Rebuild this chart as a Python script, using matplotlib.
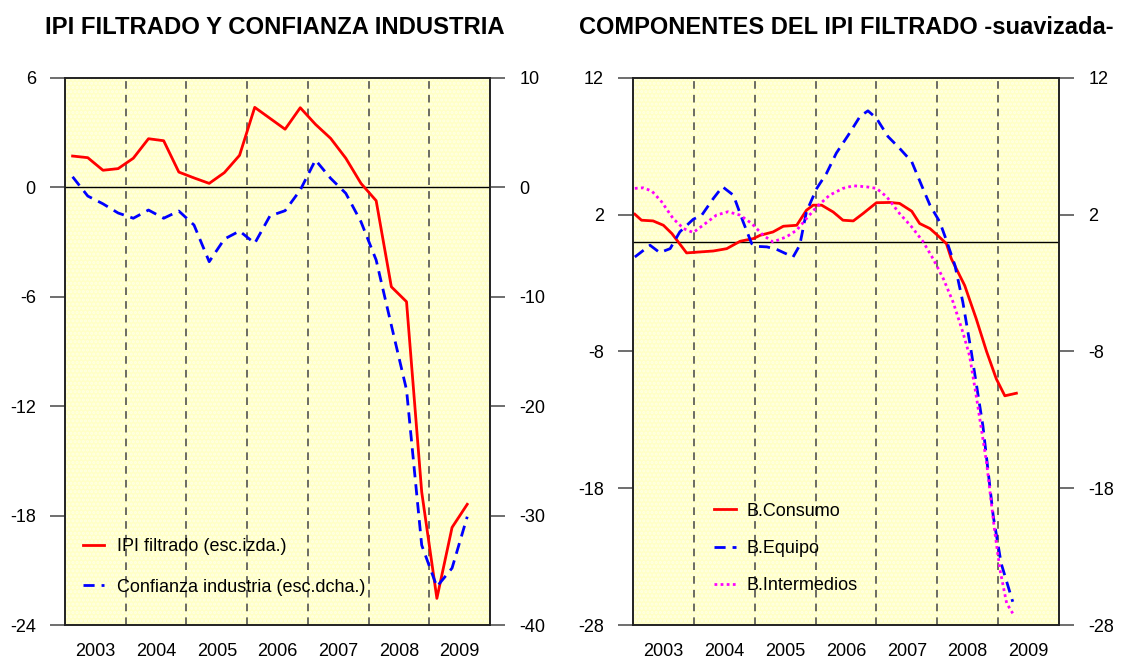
import numpy as np
import matplotlib
matplotlib.use("Agg")
import matplotlib.pyplot as plt
from matplotlib.patches import Rectangle

plt.rcParams['font.family'] = ['Liberation Sans', 'DejaVu Sans']
plt.rcParams['hatch.linewidth'] = 1.5
plt.rcParams['axes.unicode_minus'] = False

# ---- panel izquierdo: datos trimestrales 2003T1 - 2009T3
trimestres = [2003 + (i + 0.5) / 4 for i in range(27)]
ipi_filtrado = [1.72, 1.63, 0.94, 1.03, 1.60, 2.67, 2.56, 0.84, 0.52, 0.22,
                0.81, 1.76, 4.39, 3.79, 3.19, 4.37, 3.46, 2.69, 1.60, 0.22,
                -0.73, -5.45, -6.27, -16.7, -22.54, -18.65, -17.38]
confianza = [0.97, -0.79, -1.5, -2.34, -2.82, -2.07, -2.82, -2.16, -3.44, -6.79,
             -4.72, -3.99, -5.11, -2.61, -2.13, -0.24, 2.50, 0.83, -0.54, -3.14,
             -6.64, -12.6, -18.5, -32.7, -36.5, -34.8, -30.1]

# ---- panel derecho: componentes suavizados
t_consumo = [2003.03, 2003.14, 2003.33, 2003.50, 2003.64, 2003.88, 2004.10, 2004.32,
             2004.54, 2004.76, 2004.98, 2005.09, 2005.30, 2005.47, 2005.69, 2005.85,
             2005.96, 2006.10, 2006.29, 2006.45, 2006.62, 2006.78, 2007.00, 2007.22,
             2007.38, 2007.58, 2007.71, 2007.88, 2007.99, 2008.15, 2008.23, 2008.45,
             2008.64, 2008.81, 2008.97, 2009.11, 2009.30]
b_consumo = [2.04, 1.6, 1.55, 1.23, 0.62, -0.79, -0.72, -0.65,
             -0.48, 0.06, 0.26, 0.5, 0.74, 1.16, 1.23, 2.33,
             2.7, 2.7, 2.2, 1.6, 1.55, 2.09, 2.88, 2.9,
             2.83, 2.26, 1.36, 0.99, 0.55, -0.11, -1.21, -3.17,
             -5.61, -8.0, -10.0, -11.24, -11.05]

t_equipo = [2003.03, 2003.28, 2003.44, 2003.61, 2003.77, 2003.99, 2004.13, 2004.32,
            2004.47, 2004.65, 2004.81, 2004.95, 2005.03, 2005.20, 2005.36, 2005.63,
            2005.74, 2005.85, 2006.02, 2006.18, 2006.34, 2006.54, 2006.73, 2006.86,
            2007.00, 2007.19, 2007.38, 2007.58, 2007.74, 2007.88, 2008.04, 2008.15,
            2008.29, 2008.42, 2008.56, 2008.75, 2008.92, 2009.05, 2009.24]
b_equipo = [-1.09, -0.23, -0.77, -0.48, 0.75, 1.67, 1.97, 3.19,
            4.05, 3.43, 1.48, -0.11, -0.31, -0.35, -0.53, -1.09,
            -0.23, 2.22, 3.93, 5.03, 6.5, 7.84, 9.19, 9.6,
            9.06, 7.72, 6.86, 5.88, 4.17, 2.7, 1.48, 0.13,
            -1.7, -4.39, -8.06, -13.45, -20.05, -23.5, -26.3]

t_interm = [2003.03, 2003.17, 2003.31, 2003.47, 2003.66, 2003.83, 2003.99, 2004.15,
            2004.37, 2004.56, 2004.76, 2004.95, 2005.14, 2005.30, 2005.52, 2005.69,
            2005.85, 2006.02, 2006.23, 2006.45, 2006.62, 2006.84, 2007.00, 2007.17,
            2007.38, 2007.58, 2007.77, 2007.93, 2008.10, 2008.26, 2008.42, 2008.53,
            2008.64, 2008.81, 2008.94, 2009.03, 2009.14, 2009.24]
b_interm = [3.93, 3.97, 3.73, 2.95, 1.72, 0.99, 0.70, 1.23,
            1.97, 2.22, 1.97, 1.36, 0.5, 0.01, 0.38, 0.87,
            1.72, 2.58, 3.43, 3.93, 4.12, 4.04, 3.93, 3.31,
            2.09, 1.11, 0.01, -1.21, -2.68, -4.39, -6.59, -8.3,
            -11.24, -16.13, -21.03, -23.96, -26.41, -27.15]

years = [2003, 2004, 2005, 2006, 2007, 2008, 2009]
year_labels = [str(y) for y in years]

fig = plt.figure(figsize=(11.22, 6.59), dpi=100)
fig.patch.set_facecolor('white')


def setup_panel(ax, ylim, yticks):
    ax.set_xlim(2003, 2010)
    ax.set_ylim(*ylim)
    ax.set_facecolor('#FFFFC6')
    ax.add_patch(Rectangle((0, 0), 1, 1, transform=ax.transAxes, facecolor='none',
                           edgecolor='#FFFFE6', hatch='....', lw=0, zorder=0))
    for y in years[1:]:
        ax.axvline(y, color='#444444', lw=1.1, ls=(0, (5, 4)), zorder=1)
    ax.axhline(0, color='black', lw=1, zorder=1)
    ax.set_yticks(yticks)
    ax.set_xticks([y + 0.5 for y in years])
    ax.set_xticklabels(year_labels)
    ax.tick_params(axis='x', length=0, pad=13, labelsize=13)
    ax.tick_params(axis='y', length=11, width=1.2, color='#555555', pad=10, labelsize=13)
    for s in ax.spines.values():
        s.set_color('#222222')
        s.set_linewidth(1.2)


# ---- panel izquierdo
ax1 = fig.add_axes([65 / 1122, 1 - 625 / 659, 425 / 1122, 547 / 659])
setup_panel(ax1, (-24, 6), [6, 0, -6, -12, -18, -24])
l1, = ax1.plot(trimestres, ipi_filtrado, color='red', lw=2, zorder=3,
               label='IPI filtrado (esc.izda.)')
ax1r = ax1.twinx()
ax1r.set_ylim(-40, 10)
ax1r.set_yticks([10, 0, -10, -20, -30, -40])
ax1r.tick_params(axis='y', length=11, width=1.2, color='#555555', pad=10, labelsize=13)
for s in ax1r.spines.values():
    s.set_color('#222222')
    s.set_linewidth(1.2)
l2, = ax1r.plot(trimestres, confianza, color='blue', lw=2, ls=(0, (4, 2.5)), zorder=3,
                label='Confianza industria (esc.dcha.)')
ax1r.legend(handles=[l1, l2], loc='upper left', bbox_to_anchor=(0.02, 0.175),
            frameon=False, fontsize=13, handlelength=1.2, handletextpad=0.7,
            labelspacing=1.3, borderpad=0)

# ---- panel derecho
ax2 = fig.add_axes([633 / 1122, 1 - 625 / 659, 426 / 1122, 547 / 659])
setup_panel(ax2, (-28, 12), [12, 2, -8, -18, -28])
r1, = ax2.plot(t_consumo, b_consumo, color='red', lw=2, zorder=3, label='B.Consumo')
r2, = ax2.plot(t_equipo, b_equipo, color='blue', lw=2, ls=(0, (4, 2.5)), zorder=3,
               label='B.Equipo')
r3, = ax2.plot(t_interm, b_interm, color='magenta', lw=2, ls=(0, (1, 1.2)), zorder=3,
               label='B.Intermedios')
ax2r = ax2.twinx()
ax2r.set_ylim(-28, 12)
ax2r.set_yticks([12, 2, -8, -18, -28])
ax2r.tick_params(axis='y', length=11, width=1.2, color='#555555', pad=10, labelsize=13)
for s in ax2r.spines.values():
    s.set_color('#222222')
    s.set_linewidth(1.2)
ax2.legend(handles=[r1, r2, r3], loc='upper left', bbox_to_anchor=(0.17, 0.24),
           frameon=False, fontsize=13, handlelength=1.2, handletextpad=0.6,
           labelspacing=1.12, borderpad=0)

fig.text((65 + 490) / 2 / 1122 - 0.002, 1 - 28 / 659, 'IPI FILTRADO Y CONFIANZA INDUSTRIA',
         ha='center', va='center', fontsize=17.2, fontweight='bold')
fig.text((633 + 1059) / 2 / 1122, 1 - 28 / 659, 'COMPONENTES DEL IPI FILTRADO -suavizada-',
         ha='center', va='center', fontsize=17.0, fontweight='bold')

fig.savefig('out.png', dpi=100)
